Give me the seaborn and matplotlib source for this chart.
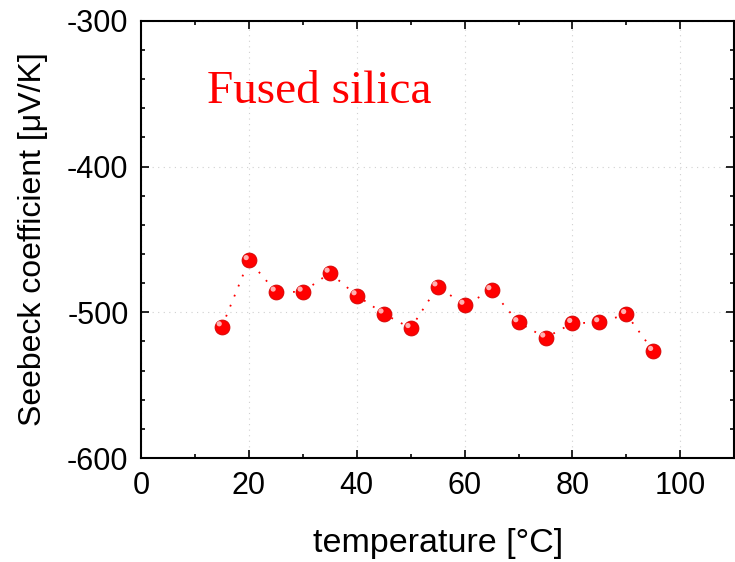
import numpy as np
import pandas as pd
import matplotlib
matplotlib.use("Agg")
import matplotlib.pyplot as plt
import matplotlib.transforms as mtransforms
from matplotlib.ticker import MultipleLocator
import seaborn as sns

# data
temperature = [15, 20, 25, 30, 35, 40, 45, 50, 55, 60, 65, 70, 75, 80, 85, 90, 95]
seebeck = [-509.8, -464.4, -486.0, -486.0, -473.0, -488.5, -501.0, -511.0, -482.4,
           -495.0, -485.0, -507.0, -517.5, -507.5, -507.0, -501.4, -526.7]
sample_name = "Fused silica"

df = pd.DataFrame({"temperature": temperature, "seebeck": seebeck})

sns.set_theme(style="ticks")
plt.rcParams["font.family"] = ["Liberation Sans", "DejaVu Sans"]
plt.rcParams.update({
    "axes.unicode_minus": False,
    "text.color": "black",
    "axes.labelcolor": "black",
    "xtick.color": "black",
    "ytick.color": "black",
    "xtick.direction": "in",
    "ytick.direction": "in",
    "xtick.top": True,
    "ytick.right": True,
    "xtick.major.size": 6,
    "ytick.major.size": 6,
    "xtick.minor.size": 3,
    "ytick.minor.size": 3,
    "xtick.major.width": 1.2,
    "ytick.major.width": 1.2,
    "xtick.minor.width": 1.2,
    "ytick.minor.width": 1.2,
    "axes.linewidth": 1.5,
    "axes.edgecolor": "black",
})

fig = plt.figure(figsize=(7.35, 5.62), dpi=100)
ax = fig.add_axes([0.192, 0.185, 0.807, 0.778])

# dotted connecting line
sns.lineplot(data=df, x="temperature", y="seebeck", ax=ax, color="red",
             linewidth=1.3, linestyle=(0, (1, 5)), zorder=2)

# sphere-like markers: red ball + small highlight
sns.scatterplot(data=df, x="temperature", y="seebeck", ax=ax, s=115,
                color="#ff0000", edgecolor="#d00000", linewidth=0.6, zorder=3)
shift = mtransforms.offset_copy(ax.transData, fig=fig, x=-2.0, y=2.0, units="points")
ax.scatter(df["temperature"], df["seebeck"], s=14, color="#ffb0b0",
           edgecolor="none", zorder=4, transform=shift)

ax.set_xlim(0, 110)
ax.set_ylim(-600, -300)
ax.xaxis.set_major_locator(MultipleLocator(20))
ax.xaxis.set_minor_locator(MultipleLocator(10))
ax.yaxis.set_major_locator(MultipleLocator(100))
ax.yaxis.set_minor_locator(MultipleLocator(20))
ax.tick_params(which="both", top=True, right=True, labelsize=22)
ax.tick_params(axis="x", pad=9)
ax.tick_params(axis="y", pad=9)
ax.grid(True, which="major", color="#d0d0d0", linestyle=(0, (1, 4)), linewidth=0.8)

ax.set_xlabel("temperature [°C]", fontsize=24.5, labelpad=20)
ax.set_ylabel("Seebeck coefficient [μV/K]", fontsize=23, labelpad=14)

ax.text(0.111, 0.812, sample_name, transform=ax.transAxes, color="red",
        fontsize=34, family=["Liberation Serif", "DejaVu Serif"], va="baseline")

fig.savefig("out.png", dpi=100)
